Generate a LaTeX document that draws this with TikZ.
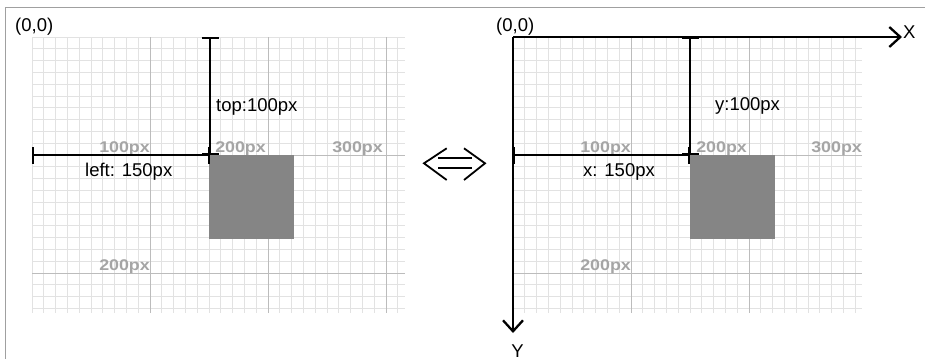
\documentclass[tikz,border=0pt]{standalone}
\usepackage{fontspec}
\setmainfont{Liberation Sans}
\usetikzlibrary{arrows.meta}
\definecolor{minorgray}{RGB}{226,226,226}
\definecolor{majorgray}{RGB}{188,188,188}
\definecolor{lblgray}{RGB}{165,165,165}
\definecolor{boxgray}{RGB}{133,133,133}
\definecolor{framegray}{RGB}{160,160,160}
\begin{document}
\begin{tikzpicture}[x=1pt,y=-1pt,
  minorline/.style={draw=minorgray,line width=0.8pt},
  majorline/.style={draw=majorgray,line width=1pt},
  dimline/.style={draw=black,line width=2.3pt,{Bar[width=17pt]}-{Bar[width=17pt]}},
  axisline/.style={draw=black,line width=2.3pt,-{Straight Barb[length=11pt,width=20pt]}},
  txt/.style={font=\fontsize{18.5}{21}\selectfont,inner sep=0pt,anchor=base west},
  gridlbl/.style={font=\bfseries\fontsize{15.5}{16}\selectfont,text=lblgray,inner sep=0pt,anchor=base east},
  boxfill/.style={fill=boxgray}]
\useasboundingbox (0,0) rectangle (925,359);

% outer frame (top and left edges)
\draw[framegray,line width=1pt] (925,7.5) -- (5,7.5) -- (5,359);

% ---------------- left panel: CSS positioning ----------------
\begin{scope}[shift={(32,37)}]
  \foreach \i in {0,...,31} \draw[minorline] (\i*11.8,0) -- (\i*11.8,276);
  \foreach \j in {0,...,23} \draw[minorline] (0,\j*11.8) -- (373,\j*11.8);
  \foreach \i in {118,236,354} \draw[majorline] (\i,0) -- (\i,276);
  \foreach \j in {118,236} \draw[majorline] (0,\j) -- (373,\j);
  \node[gridlbl] (lg1) at (118,115) {\scalebox{1.15}[1]{100px}};
  \node[gridlbl] (lg2) at (234,115) {\scalebox{1.15}[1]{200px}};
  \node[gridlbl] (lg3) at (351,115) {\scalebox{1.15}[1]{300px}};
  \node[gridlbl] (lg4) at (118,233) {\scalebox{1.15}[1]{200px}};
  \fill[boxfill] (177,118) rectangle (262,202);
  \coordinate (ltop) at (178,0);
  \coordinate (lcorner) at (178,118);
  \coordinate (lleft) at (0,118);
  \draw[dimline] (ltop) -- (lcorner);
  \draw[dimline] (lleft) -- (lcorner);
  \node[txt] (lorigin) at (-17,-5.3) {(0,0)};
  \node[txt] (ltoplbl) at (184,74) {top:100px};
  \node[txt] (lleftlbl) at (53,139.7) {left: 150px};
\end{scope}

% ---------------- equivalence arrow ----------------
\draw[line width=1.8pt] (446.7,148.3) -- (424,163.3) -- (446.7,180);
\draw[line width=1.8pt] (464,148.3) -- (485,163.3) -- (464,180);
\draw[line width=1.8pt] (438,158.3) -- (471.7,158.3);
\draw[line width=1.8pt] (438,168.3) -- (471.7,168.3);

% ---------------- right panel: coordinate system ----------------
\begin{scope}[shift={(513,37)}]
  \foreach \i in {0,...,29} \draw[minorline] (\i*11.8,0) -- (\i*11.8,276);
  \foreach \j in {0,...,23} \draw[minorline] (0,\j*11.8) -- (349,\j*11.8);
  \foreach \i in {118,236} \draw[majorline] (\i,0) -- (\i,276);
  \foreach \j in {118,236} \draw[majorline] (0,\j) -- (349,\j);
  \node[gridlbl] (rg1) at (118,115) {\scalebox{1.15}[1]{100px}};
  \node[gridlbl] (rg2) at (234,115) {\scalebox{1.15}[1]{200px}};
  \node[gridlbl] (rg3) at (349,115) {\scalebox{1.15}[1]{300px}};
  \node[gridlbl] (rg4) at (118,233) {\scalebox{1.15}[1]{200px}};
  \fill[boxfill] (177,118) rectangle (262,202);
  \coordinate (ro) at (0,0);
  \coordinate (rxend) at (389,0);
  \coordinate (ryend) at (0,296);
  \draw[axisline] (ro) -- (rxend);
  \draw[axisline] (ro) -- (ryend);
  \coordinate (rtop) at (177,0);
  \coordinate (rcorner) at (177,118);
  \coordinate (rleft) at (0,118);
  \draw[dimline] (rtop) -- (rcorner);
  \draw[dimline] (rleft) -- (rcorner);
  \node[txt] (rorigin) at (-17,-5.3) {(0,0)};
  \node[txt] (rylbl) at (202,73) {y:100px};
  \node[txt] (rxlbl) at (70,139.7) {x: 150px};
  \node[txt] (xname) at (390,1.3) {X};
  \node[txt] (yname) at (-1.8,320) {Y};
\end{scope}
\end{tikzpicture}
\end{document}
